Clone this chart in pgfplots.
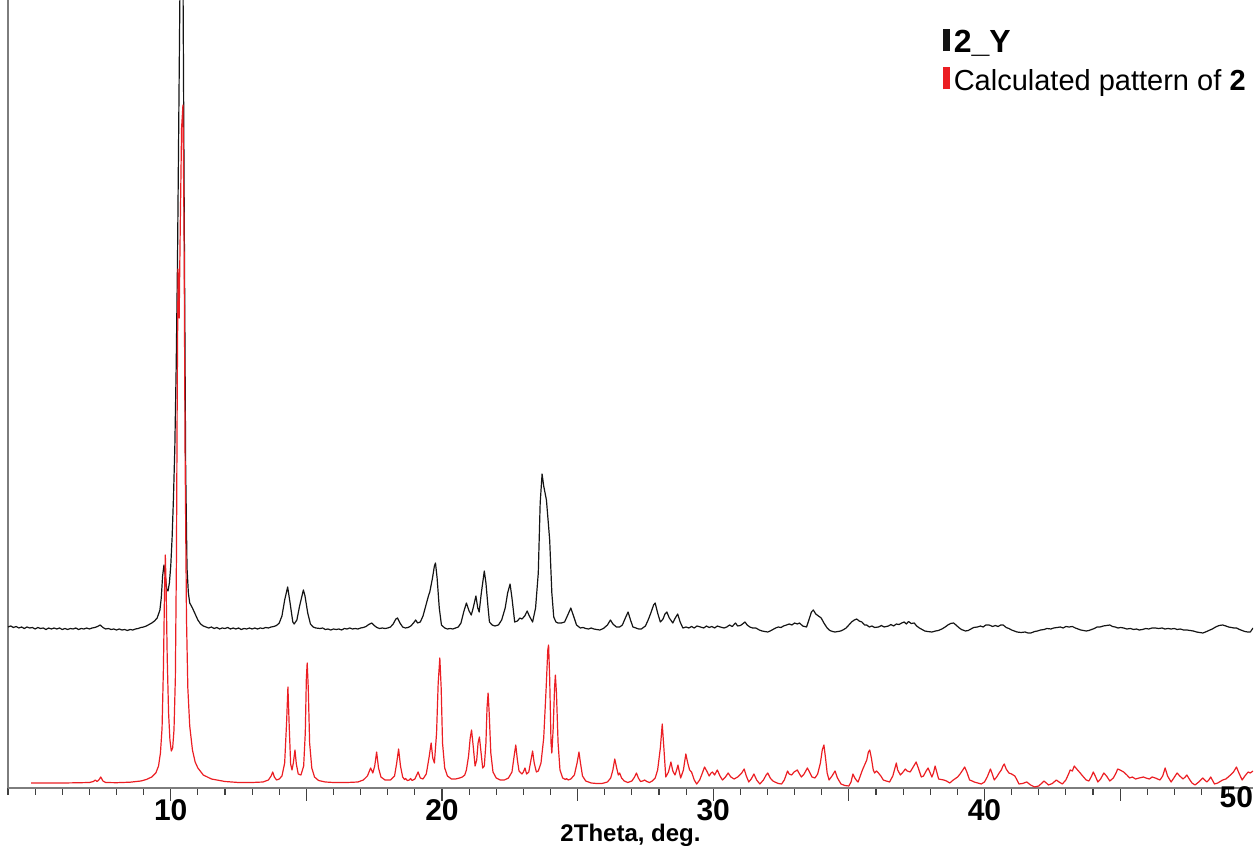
\documentclass[border=0pt]{standalone}
\usepackage{fontspec}
\setmainfont{Liberation Sans}
\usepackage{pgfplots}
\pgfplotsset{compat=1.18}
\definecolor{xrdred}{RGB}{235,30,35}
\definecolor{xrdblack}{RGB}{20,20,20}
\definecolor{axgray}{RGB}{125,125,125}
\begin{document}
\begin{tikzpicture}
\begin{axis}[
  scale only axis, width=622.5pt, height=394pt,
  xmin=4, xmax=49.9, ymin=0, ymax=788,
  axis x line=bottom, axis y line=left,
  axis line style={-, draw=axgray, line width=0.8pt},
  ytick=\empty,
  xtick={10,15,...,45},
  xticklabels={10,,20,,30,,40,},
  minor xtick={4,...,49},
  extra x ticks={49.9}, extra x tick labels={\llap{50}},
  extra x tick style={major tick length=0pt},
  tick align=outside,
  major tick length=6.5pt, minor tick length=3.5pt,
  tick style={draw=black!75, line width=0.6pt},
  /pgf/number format/assume math mode=true,
  xticklabel style={font=\fontsize{15}{15}\selectfont\bfseries, inner sep=0pt, anchor=north, yshift=0.8pt},
  xlabel={2Theta, deg.},
  xlabel style={font=\fontsize{12}{12}\selectfont\bfseries, at={(axis description cs:0.5,0)}, anchor=north, inner sep=0pt, yshift=-18pt},
  legend cell align=left,
  legend style={at={(axis description cs:0.7505,0.968)}, anchor=north west, draw=none, fill=none,
    font=\fontsize{14.5}{17}\selectfont, inner sep=0pt, row sep=2pt,
    /tikz/every even column/.append style={column sep=3.5pt}},
  legend image code/.code={\draw[#1, line width=3.5pt] (0.12em,-4pt) -- (0.12em,7pt);},
  every axis plot/.append style={line width=0.6pt, line join=round, mark=none},
]
\addplot[xrdblack] coordinates {
(4.0,161) (4.1,162) (4.2,160.5) (4.3,161.5) (4.4,160) (4.5,161) (4.6,159.5) (4.7,161) (4.8,160) (4.9,160.5)
(5.0,159) (5.1,160.5) (5.2,159.5) (5.3,160) (5.4,158.5) (5.5,160) (5.6,159) (5.7,160) (5.8,159) (5.9,160)
(6.0,158.5) (6.1,159.5) (6.2,158.5) (6.3,159.5) (6.4,159) (6.5,160) (6.6,158.5) (6.7,159.5) (6.8,159) (6.9,160)
(7.0,159) (7.1,160) (7.2,160.5) (7.3,161.5) (7.4,163) (7.5,160.5) (7.6,159) (7.7,159.5) (7.8,158.5) (7.9,159)
(8.0,158) (8.1,159) (8.2,158) (8.3,158.5) (8.4,157.5) (8.5,158.5) (8.6,158) (8.7,159) (8.8,159.5) (8.9,160.5)
(9.0,161) (9.1,162) (9.2,163.5) (9.3,165) (9.4,167) (9.5,170) (9.6,178) (9.65,190) (9.7,212) (9.75,223)
(9.8,212) (9.85,199) (9.9,197) (9.95,205) (10.0,222) (10.05,250) (10.1,290) (10.15,340) (10.2,420) (10.25,530)
(10.3,680) (10.35,830) (10.38,900) (10.42,900) (10.45,820) (10.5,560) (10.55,320) (10.6,220) (10.65,195) (10.7,185)
(10.8,180) (10.9,174) (11.0,168) (11.1,164) (11.2,162) (11.3,161) (11.4,160) (11.5,161) (11.6,159.5) (11.7,160.5)
(11.8,159) (11.9,160) (12.0,159.5) (12.1,160.5) (12.2,159) (12.3,160) (12.4,159) (12.5,160) (12.6,158.5) (12.7,159.5)
(12.8,159) (12.9,160) (13.0,159) (13.1,160) (13.2,159) (13.3,160) (13.4,159.5) (13.5,160.5) (13.6,160) (13.7,161)
(13.8,161.5) (13.9,162.5) (14.0,165) (14.1,172) (14.2,188) (14.31,201) (14.4,185) (14.5,166) (14.55,164) (14.65,168)
(14.75,182) (14.89,198) (14.95,192) (15.05,175) (15.15,164) (15.25,161) (15.35,160) (15.5,159.5) (15.6,160) (15.7,158.5)
(15.8,159) (15.9,158) (16.0,159) (16.1,158.5) (16.2,159) (16.3,158) (16.4,159.5) (16.5,159) (16.6,160) (16.7,159)
(16.8,159.5) (16.9,159) (17.0,160) (17.1,160.5) (17.2,161.5) (17.3,163.5) (17.41,165) (17.5,162.5) (17.6,160.5) (17.7,159.5)
(17.8,160) (17.9,159.5) (18.0,160) (18.1,161) (18.2,164) (18.3,169) (18.36,170) (18.45,165) (18.55,161) (18.65,160)
(18.75,160.5) (18.85,162) (18.95,165) (19.03,168) (19.1,165) (19.2,166) (19.3,172) (19.4,182) (19.5,192) (19.55,196)
(19.65,210) (19.72,222) (19.76,225) (19.82,210) (19.9,180) (19.98,163) (20.1,160) (20.2,159) (20.3,159.5) (20.4,159)
(20.5,160) (20.6,161) (20.7,165) (20.8,176) (20.9,185) (21.0,177) (21.08,173) (21.15,180) (21.25,192) (21.32,180)
(21.37,176) (21.45,195) (21.56,217) (21.62,205) (21.7,180) (21.75,166) (21.85,163) (21.95,162) (22.08,163) (22.2,168)
(22.33,180) (22.42,195) (22.51,204) (22.58,190) (22.68,166) (22.78,167) (22.87,170) (22.95,169) (23.05,172) (23.14,177)
(23.22,172) (23.34,166) (23.45,180) (23.55,215) (23.62,285) (23.69,314) (23.75,302) (23.85,288) (23.92,265) (23.97,248)
(24.05,195) (24.12,171) (24.2,166) (24.28,165) (24.4,165) (24.52,166) (24.62,172) (24.75,180) (24.85,172) (24.96,163)
(25.1,160) (25.2,160.5) (25.3,159.5) (25.4,159) (25.5,160) (25.6,159) (25.7,158.5) (25.82,158) (25.95,159.5) (26.1,163)
(26.21,168) (26.3,164) (26.43,161) (26.55,161) (26.65,163) (26.76,170) (26.86,176) (26.95,168) (27.04,161) (27.15,160)
(27.25,159) (27.35,159) (27.5,162) (27.6,168) (27.7,175) (27.8,183) (27.86,185) (27.95,175) (28.05,166) (28.15,169)
(28.22,174) (28.29,176) (28.38,170) (28.51,165) (28.6,170) (28.69,174) (28.78,166) (28.88,160) (29.0,161) (29.1,160)
(29.2,161.5) (29.3,160) (29.4,162) (29.53,161) (29.65,160) (29.75,162) (29.85,160.5) (29.95,161.5) (30.05,160) (30.15,162)
(30.26,161) (30.4,160) (30.5,161) (30.6,163) (30.7,161.5) (30.82,165) (30.9,162) (31.0,162.5) (31.08,164) (31.17,166)
(31.25,163) (31.35,161) (31.45,160) (31.57,160) (31.7,158) (31.8,157) (31.9,156.5) (32.01,156) (32.1,157) (32.2,158.5)
(32.3,160) (32.4,161) (32.5,160.5) (32.59,162) (32.7,163) (32.8,164) (32.9,163) (33.0,165) (33.1,164) (33.18,165)
(33.3,162) (33.44,161) (33.55,170) (33.62,176) (33.69,178) (33.78,174) (33.88,172) (33.98,170) (34.08,165) (34.2,160)
(34.3,157.5) (34.4,156.5) (34.49,156) (34.6,156.5) (34.7,157) (34.78,158) (34.9,160) (35.0,163) (35.1,166) (35.2,168)
(35.29,169) (35.38,167) (35.48,166) (35.58,163) (35.66,163) (35.75,161) (35.85,162) (35.95,160.5) (36.09,161) (36.2,162.5)
(36.3,161) (36.46,162) (36.55,163.5) (36.65,162) (36.75,164) (36.85,163.5) (36.95,165) (37.04,166) (37.12,164) (37.2,166.5)
(37.3,164.5) (37.41,165) (37.5,162) (37.6,160) (37.7,158.5) (37.8,157) (37.9,156.5) (38.06,156) (38.2,157) (38.3,157.5)
(38.43,159) (38.55,161) (38.65,163) (38.75,164.5) (38.86,165) (38.95,163) (39.05,160.5) (39.15,158.5) (39.3,157) (39.4,157.5)
(39.5,159) (39.6,160.5) (39.74,161) (39.85,162) (39.95,161) (40.05,163) (40.17,163) (40.3,161.5) (40.4,162.5) (40.5,161.5)
(40.6,163) (40.69,163) (40.8,160.5) (40.9,159.5) (41.0,158) (41.1,157) (41.2,156) (41.35,155.5) (41.5,156) (41.6,155)
(41.71,155) (41.85,156.5) (41.95,157) (42.07,158) (42.2,158.5) (42.3,159.5) (42.45,159) (42.55,160) (42.68,160.5) (42.8,161)
(42.9,160) (43.0,161.5) (43.12,161) (43.24,161.5) (43.35,160) (43.45,159) (43.55,158) (43.65,157.5) (43.75,157) (43.85,157.5)
(43.95,158.5) (44.05,159.5) (44.15,161) (44.26,161) (44.38,162) (44.5,162.5) (44.62,163) (44.72,161.5) (44.82,161) (44.92,160)
(45.02,160.5) (45.13,160) (45.25,159) (45.38,159.5) (45.5,158.5) (45.6,159) (45.71,158) (45.82,158.5) (45.95,159.5) (46.05,159)
(46.18,160) (46.3,160) (46.42,159.5) (46.55,160) (46.65,159) (46.77,159.5) (46.88,159) (47.0,159.5) (47.1,158.5) (47.22,159)
(47.34,158) (47.46,158) (47.58,157.5) (47.7,157) (47.82,156) (47.93,155.5) (48.05,155) (48.15,156) (48.27,157.5) (48.4,159)
(48.52,161) (48.65,162.5) (48.78,163) (48.9,162) (49.0,161) (49.1,160.5) (49.2,160) (49.29,160) (49.4,158.5) (49.5,157.5)
(49.6,156.5) (49.7,156) (49.8,156) (49.9,160)
};
\addlegendentry{\fontsize{16}{17}\selectfont\bfseries 2\_Y}
\addplot[xrdred] coordinates {
(4.85,5) (5.5,5) (6.0,5) (6.5,5.2) (7.0,5.5) (7.15,6.5) (7.22,8) (7.28,6.5) (7.35,8) (7.42,11) (7.5,7) (7.6,5.5)
(8.0,5.3) (8.5,5.8) (8.9,7) (9.1,8.5) (9.3,11) (9.45,15) (9.55,22) (9.62,35) (9.68,60) (9.73,120) (9.77,195) (9.8,233)
(9.83,200) (9.87,130) (9.92,75) (9.97,48) (10.02,37) (10.07,40) (10.12,58) (10.17,110) (10.21,230) (10.24,400) (10.27,519)
(10.31,470) (10.35,560) (10.4,660) (10.45,683) (10.49,560) (10.53,330) (10.58,170) (10.63,100) (10.7,62) (10.8,38)
(10.9,26) (11.0,20) (11.2,13) (11.5,9) (12.0,6.5) (12.5,5.5) (13.0,5.5) (13.4,6) (13.6,8) (13.7,12) (13.76,16) (13.82,11)
(13.9,8) (14.0,9) (14.1,12) (14.2,25) (14.27,65) (14.32,101) (14.37,60) (14.42,24) (14.47,18) (14.52,25) (14.58,38)
(14.63,24) (14.7,14) (14.8,13) (14.9,22) (14.96,55) (15.0,110) (15.03,125) (15.07,100) (15.12,45) (15.2,20) (15.3,11)
(15.45,7.5) (15.7,6) (16.0,5.5) (16.5,5.5) (16.9,6) (17.1,8) (17.25,12) (17.37,20) (17.45,15) (17.52,22) (17.59,36)
(17.66,20) (17.75,11) (17.9,8) (18.1,8) (18.25,12) (18.33,25) (18.4,39) (18.47,22) (18.55,11) (18.62,8.5) (18.66,9.5)
(18.72,7.5) (18.8,8) (18.84,9.5) (18.9,7.5) (19.0,9) (19.12,16) (19.2,10) (19.3,9) (19.42,14) (19.52,30) (19.6,45)
(19.66,30) (19.72,25) (19.8,55) (19.86,105) (19.92,130) (19.97,100) (20.02,45) (20.1,20) (20.2,12) (20.35,9) (20.5,9)
(20.65,10) (20.75,11) (20.84,13) (20.9,18) (20.98,32) (21.04,50) (21.09,58) (21.15,42) (21.22,22) (21.28,28) (21.33,45)
(21.38,51) (21.43,38) (21.5,20) (21.56,22) (21.62,45) (21.66,80) (21.7,95) (21.74,75) (21.8,35) (21.88,16) (22.0,10)
(22.15,8) (22.3,8) (22.45,10) (22.58,16) (22.66,32) (22.72,43) (22.78,28) (22.84,17) (22.89,15.5) (22.95,14) (23.0,16)
(23.06,20) (23.12,14) (23.2,16) (23.28,28) (23.34,37) (23.4,25) (23.48,16) (23.55,17) (23.65,25) (23.75,50) (23.84,100)
(23.9,138) (23.93,143) (23.97,110) (24.02,45) (24.05,35) (24.1,60) (24.15,100) (24.18,113) (24.22,95) (24.28,45)
(24.35,18) (24.45,10) (24.55,8.5) (24.59,9.5) (24.65,8) (24.75,9) (24.88,13) (24.98,25) (25.05,36) (25.1,26) (25.18,12)
(25.3,7) (25.5,5) (25.7,4.5) (25.9,4.5) (26.1,6) (26.22,10) (26.3,18) (26.37,29) (26.44,20) (26.5,13) (26.55,15)
(26.62,10) (26.72,7) (26.85,5.5) (27.0,7) (27.1,11) (27.17,15) (27.24,10) (27.32,6.5) (27.4,7) (27.47,8) (27.55,6.5)
(27.65,5.5) (27.75,7) (27.86,10) (27.95,18) (28.05,40) (28.12,64) (28.18,40) (28.25,11) (28.35,16) (28.44,26) (28.51,17)
(28.59,13) (28.65,18) (28.7,23) (28.75,16) (28.8,10) (28.9,18) (28.99,34) (29.06,25) (29.13,18) (29.2,16) (29.3,8)
(29.39,4) (29.5,8) (29.6,15) (29.68,21) (29.76,17) (29.85,12) (29.92,15) (29.97,16) (30.05,13) (30.15,18) (30.25,12)
(30.34,8) (30.45,11) (30.55,15) (30.65,11) (30.77,9) (30.9,11) (31.05,15) (31.14,19) (31.22,12) (31.31,6) (31.4,9)
(31.5,14) (31.6,8) (31.72,4) (31.85,8) (31.95,13) (32.01,15) (32.1,10) (32.2,7) (32.27,6) (32.4,4.5) (32.52,4) (32.62,8)
(32.74,17) (32.8,14) (32.89,13) (32.98,16) (33.04,17) (33.1,18) (33.18,14) (33.25,11) (33.35,14) (33.47,20) (33.55,16)
(33.64,11) (33.75,10) (33.85,14) (33.95,25) (34.02,38) (34.08,43) (34.14,30) (34.2,15) (34.27,8) (34.38,12) (34.49,17)
(34.58,10) (34.71,4) (34.85,2.5) (35.0,2) (35.08,6) (35.15,14) (35.22,10) (35.3,7) (35.34,6) (35.42,12) (35.5,18)
(35.58,23) (35.66,28) (35.72,36) (35.77,38) (35.83,30) (35.9,18) (35.95,15) (36.02,17) (36.09,15) (36.18,12) (36.27,8)
(36.38,7) (36.5,6) (36.62,12) (36.7,20) (36.75,25) (36.8,18) (36.9,13) (37.0,16) (37.08,19) (37.15,17) (37.26,16)
(37.35,20) (37.48,26) (37.56,20) (37.67,11) (37.75,12) (37.85,17) (37.92,20) (38.0,15) (38.06,11) (38.12,15) (38.18,22)
(38.24,16) (38.31,9) (38.4,8.5) (38.5,8) (38.6,7) (38.72,5) (38.85,8) (39.01,11) (39.1,14) (39.2,18) (39.27,21)
(39.35,16) (39.45,8) (39.55,7) (39.62,6) (39.75,5) (39.88,4) (40.0,6) (40.1,11) (40.22,19) (40.3,13) (40.36,8) (40.45,11)
(40.54,15) (40.62,18) (40.68,22) (40.73,24) (40.8,19) (40.9,15) (41.0,14) (41.12,12) (41.2,8) (41.27,4) (41.4,4.5)
(41.56,6) (41.7,3) (41.85,1) (42.0,2) (42.12,5) (42.19,7) (42.28,5) (42.36,3) (42.5,4.5) (42.65,8) (42.75,6) (42.87,4)
(43.0,8) (43.1,14) (43.16,18) (43.24,17) (43.31,22) (43.4,19) (43.53,15) (43.62,12) (43.75,8) (43.85,7) (43.95,12)
(44.01,16) (44.1,11) (44.18,6) (44.28,9) (44.4,15) (44.5,12) (44.62,7) (44.75,10) (44.85,15) (44.91,19) (45.0,18)
(45.13,16) (45.25,13) (45.35,10) (45.45,11) (45.57,9) (45.7,10) (45.86,11) (45.95,10) (46.08,9) (46.18,11) (46.3,10)
(46.38,9) (46.47,8) (46.57,12) (46.66,20) (46.75,12) (46.88,6) (46.98,10) (47.1,15) (47.2,12) (47.32,9) (47.4,11)
(47.46,13) (47.55,9) (47.65,5) (47.76,3) (47.9,6) (48.05,10) (48.12,8) (48.2,6) (48.27,8) (48.34,11) (48.4,8) (48.48,4)
(48.6,5) (48.78,8) (48.9,9) (49.07,13) (49.18,16) (49.29,21) (49.38,15) (49.5,8) (49.6,12) (49.72,16) (49.8,15) (49.9,17)
};
\addlegendentry{Calculated pattern of \textbf{2}}
\end{axis}
\pgfresetboundingbox
\useasboundingbox (-4pt,-29pt) rectangle (625.5pt,394pt);
\end{tikzpicture}
\end{document}
